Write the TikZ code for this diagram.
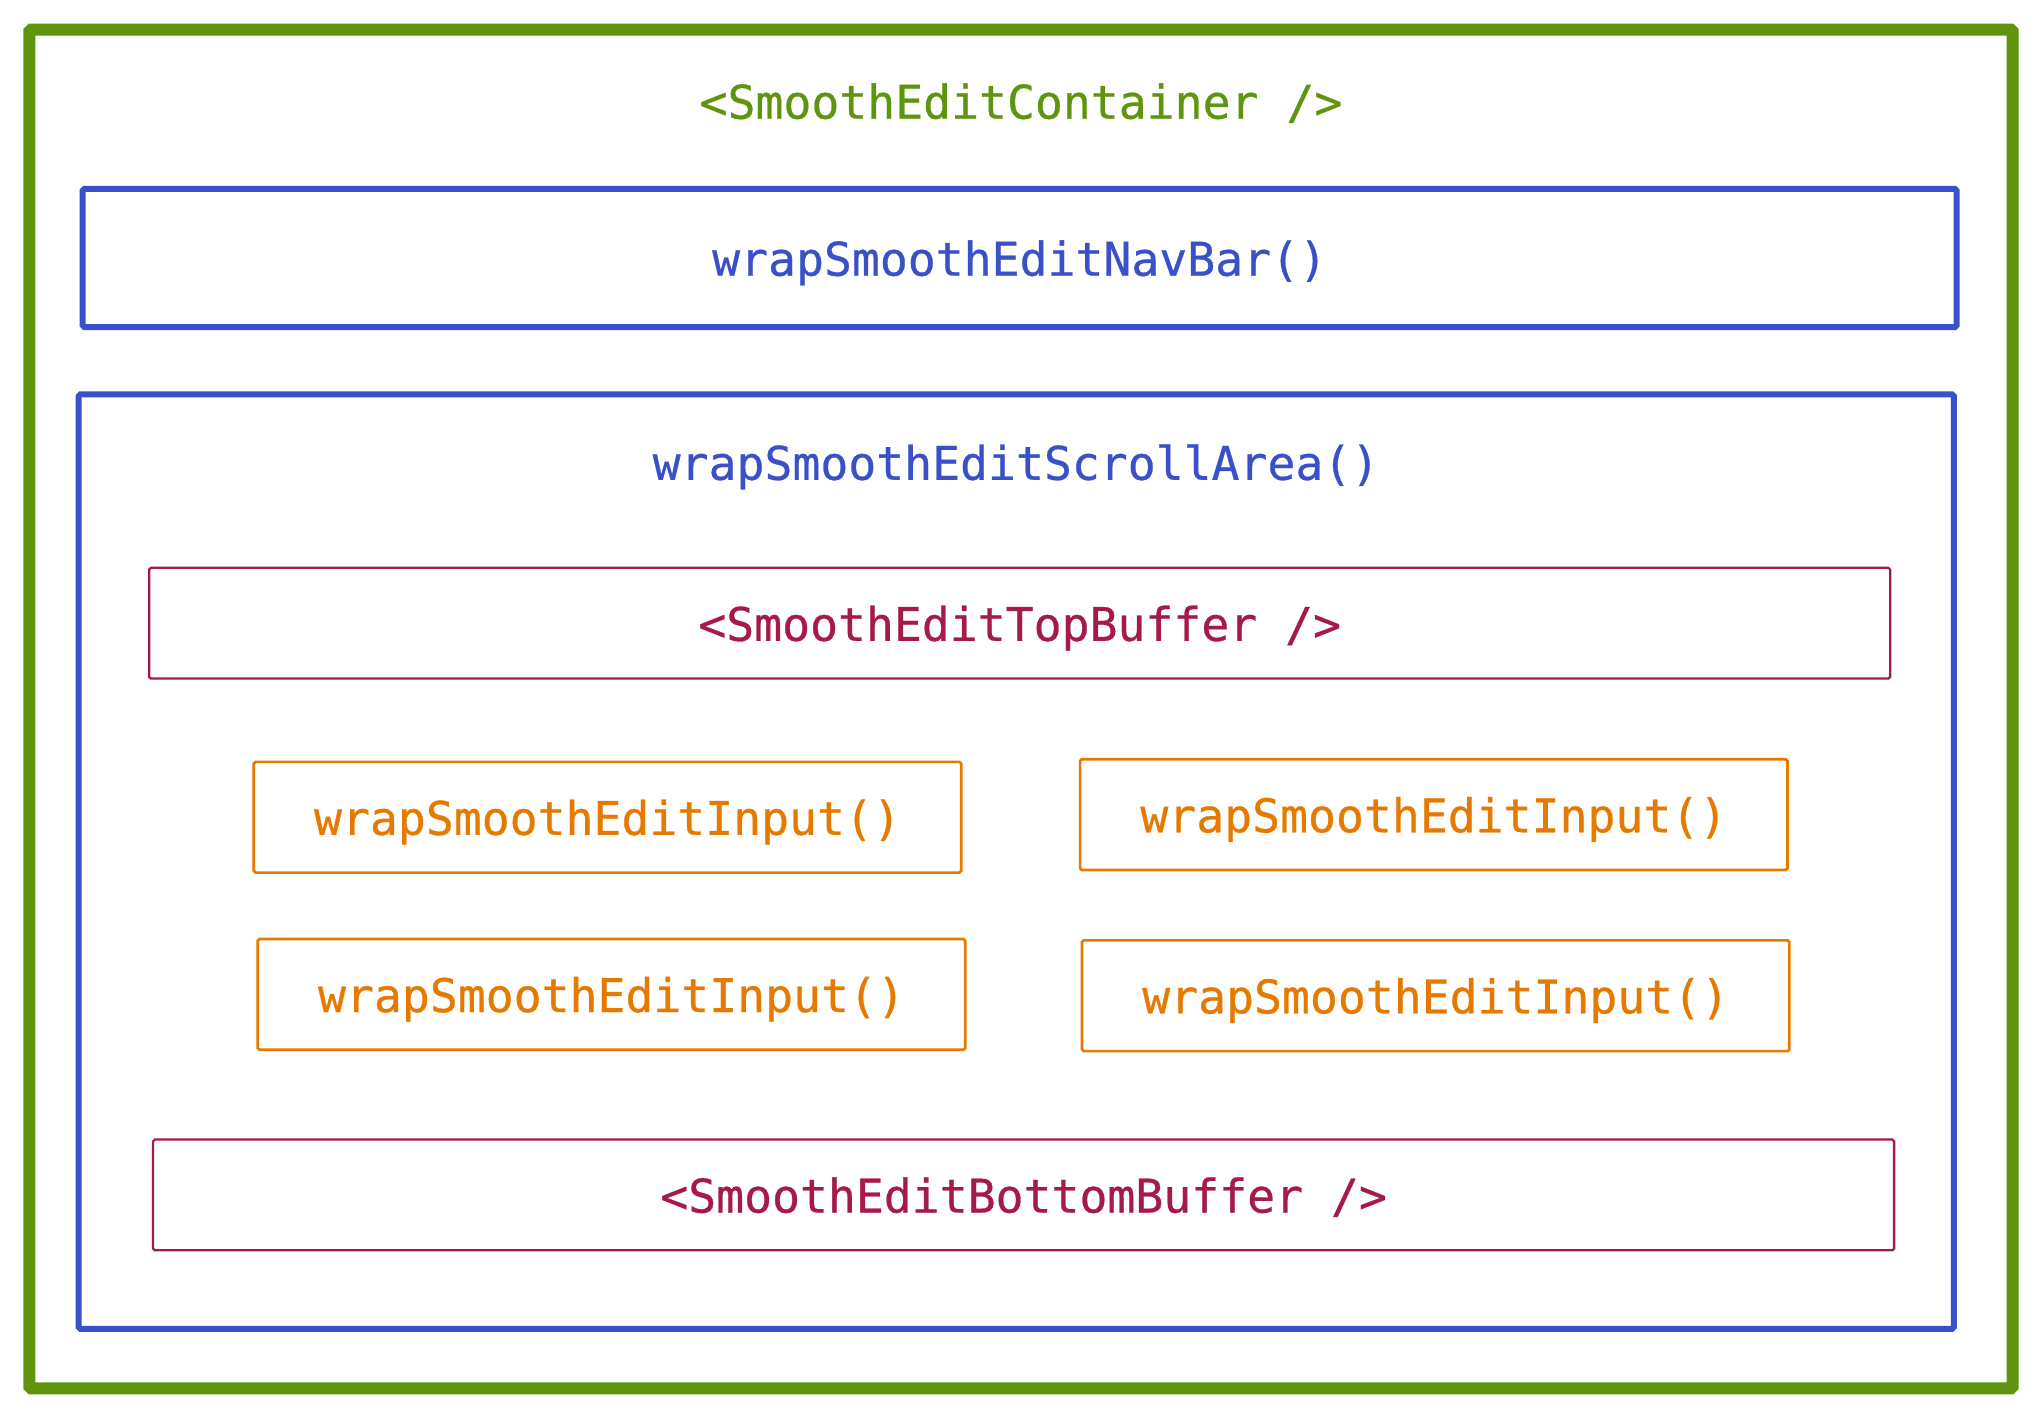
\documentclass[tikz,border=0pt]{standalone}
\usepackage{fontspec}
\newfontfamily\codefont{DejaVu Sans Mono}[FakeBold=0.6]
\usetikzlibrary{positioning}
\definecolor{cgreen}{HTML}{5E940E}
\definecolor{cblue}{HTML}{3A50C8}
\definecolor{corange}{HTML}{E67A00}
\definecolor{ccrimson}{HTML}{A51A4A}

\begin{document}
\begin{tikzpicture}[x=0.01cm,y=-0.01cm,
  code/.style={font=\fontsize{13.2}{16}\selectfont\codefont,inner sep=0pt,text depth=0pt},
  frame/.style={draw,inner sep=0pt,rounded corners=0.5pt},
  wrapbox/.style={frame,draw=cblue,line width=1.7pt,minimum width=18.73cm},
  inputbox/.style={frame,draw=corange,line width=0.75pt,minimum width=7.07cm,minimum height=1.107cm,code,text=corange},
  bufferbox/.style={frame,draw=ccrimson,line width=0.65pt,minimum width=17.40cm,minimum height=1.107cm,code,text=ccrimson}]
\useasboundingbox (0,0) rectangle (2042,1417);
\node[frame,draw=cgreen,line width=3.4pt,minimum width=19.82cm,minimum height=13.58cm] (container) at (1021,709) {};
\node[code,text=cgreen] (containertitle) at (1021,101) {<SmoothEditContainer />};
\node[wrapbox,minimum height=1.38cm,code,text=cblue] (navbar) at (1019.6,258) {wrapSmoothEditNavBar()};
\node[wrapbox,minimum width=18.74cm,minimum height=9.34cm] (scroll) at (1016.2,861.6) {};
\node[code,text=cblue] (scrolltitle) at (1016,462) {wrapSmoothEditScrollArea()};
\node[bufferbox] (topbuffer) at (1019.7,623.2) {<SmoothEditTopBuffer />};
\node[inputbox] (inputa) at (607.5,817.2) {wrapSmoothEditInput()};
\node[inputbox] (inputb) at (1433.8,814.6) {wrapSmoothEditInput()};
\node[inputbox] (inputc) at (611.5,994.4) {wrapSmoothEditInput()};
\node[inputbox] (inputd) at (1435.7,995.7) {wrapSmoothEditInput()};
\node[bufferbox] (bottombuffer) at (1023.6,1194.9) {<SmoothEditBottomBuffer />};
\end{tikzpicture}
\end{document}
